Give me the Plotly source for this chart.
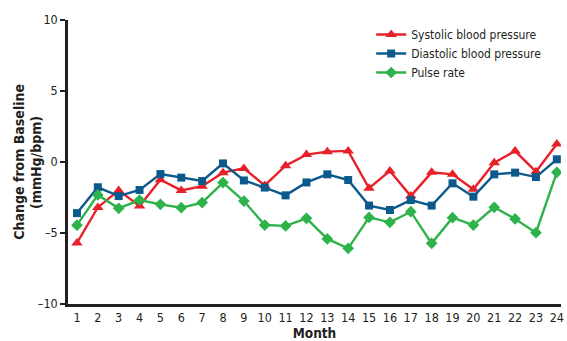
import plotly.graph_objects as go

months = list(range(1, 25))
systolic = [-5.7, -3.2, -2.0, -3.1, -1.25, -2.0, -1.7, -0.75, -0.45, -1.65, -0.26, 0.52,
            0.73, 0.78, -1.85, -0.63, -2.4, -0.73, -0.87, -1.92, -0.05, 0.77, -0.68, 1.27]
diastolic = [-3.6, -1.78, -2.4, -1.97, -0.85, -1.1, -1.34, -0.1, -1.3, -1.8, -2.35, -1.44,
             -0.87, -1.27, -3.07, -3.38, -2.68, -3.07, -1.5, -2.44, -0.87, -0.75, -1.06, 0.19]
pulse = [-4.45, -2.32, -3.26, -2.68, -2.98, -3.22, -2.86, -1.45, -2.75, -4.44, -4.5, -3.97,
         -5.42, -6.08, -3.9, -4.25, -3.5, -5.73, -3.92, -4.44, -3.19, -4.01, -4.98, -0.73]

y_ticks = [10, 5, 0, -5, -10]
y_labels = ["10", "5", "0", "\u20135", "\u201310"]
y_title_lines = ["Change from Baseline", "(mmHg/bpm)"]

font_family = "DejaVu Sans Condensed, Liberation Sans Narrow, sans-serif"

series = [
    ("Systolic blood pressure", systolic, "#e8202a", "triangle-up", 10),
    ("Diastolic blood pressure", diastolic, "#0c5a8c", "square", 8),
    ("Pulse rate", pulse, "#2db34a", "diamond", 9),
]

fig = go.Figure()
for name, vals, color, symbol, size in series:
    fig.add_trace(go.Scatter(
        x=months, y=vals, name=name, mode="lines+markers",
        line=dict(color=color, width=2.4),
        marker=dict(symbol=symbol, size=size, color=color),
    ))

# Two-line rotated y-axis title, placed to the left of the tick labels
for line, xpos in zip(y_title_lines, [-0.100, -0.065]):
    fig.add_annotation(
        text=f"<b>{line}</b>", xref="paper", yref="paper", x=xpos, y=0.5,
        xanchor="center", yanchor="middle", textangle=-90, showarrow=False,
        font=dict(size=14, color="#231f20"),
    )

fig.update_layout(
    width=567, height=341,
    margin=dict(l=68, r=6, t=20, b=37),
    paper_bgcolor="white", plot_bgcolor="white",
    font=dict(family=font_family, size=12, color="#231f20"),
    showlegend=True,
    legend=dict(
        x=0.615, y=1.0, xanchor="left", yanchor="top",
        bgcolor="rgba(0,0,0,0)", font=dict(size=12, color="#231f20"),
        tracegroupgap=0, itemwidth=30,
    ),
    xaxis=dict(
        range=[0.57, 24.2], tickmode="array", tickvals=months,
        ticktext=[str(m) for m in months], showgrid=False, zeroline=False,
        showline=True, linecolor="#231f20", linewidth=2.5, ticks="",
        tickfont=dict(size=12.5), automargin=False,
        title=dict(text="<b>Month</b>", font=dict(size=13.5), standoff=5),
    ),
    yaxis=dict(
        range=[-10, 10], tickmode="array", tickvals=y_ticks, ticktext=y_labels,
        showgrid=False, zeroline=False, showline=True, linecolor="#231f20",
        linewidth=2.5, ticks="outside", ticklen=5, tickwidth=2, tickcolor="#231f20",
        tickfont=dict(size=12.5), automargin=False,
    ),
)

fig.write_html("out.html")
